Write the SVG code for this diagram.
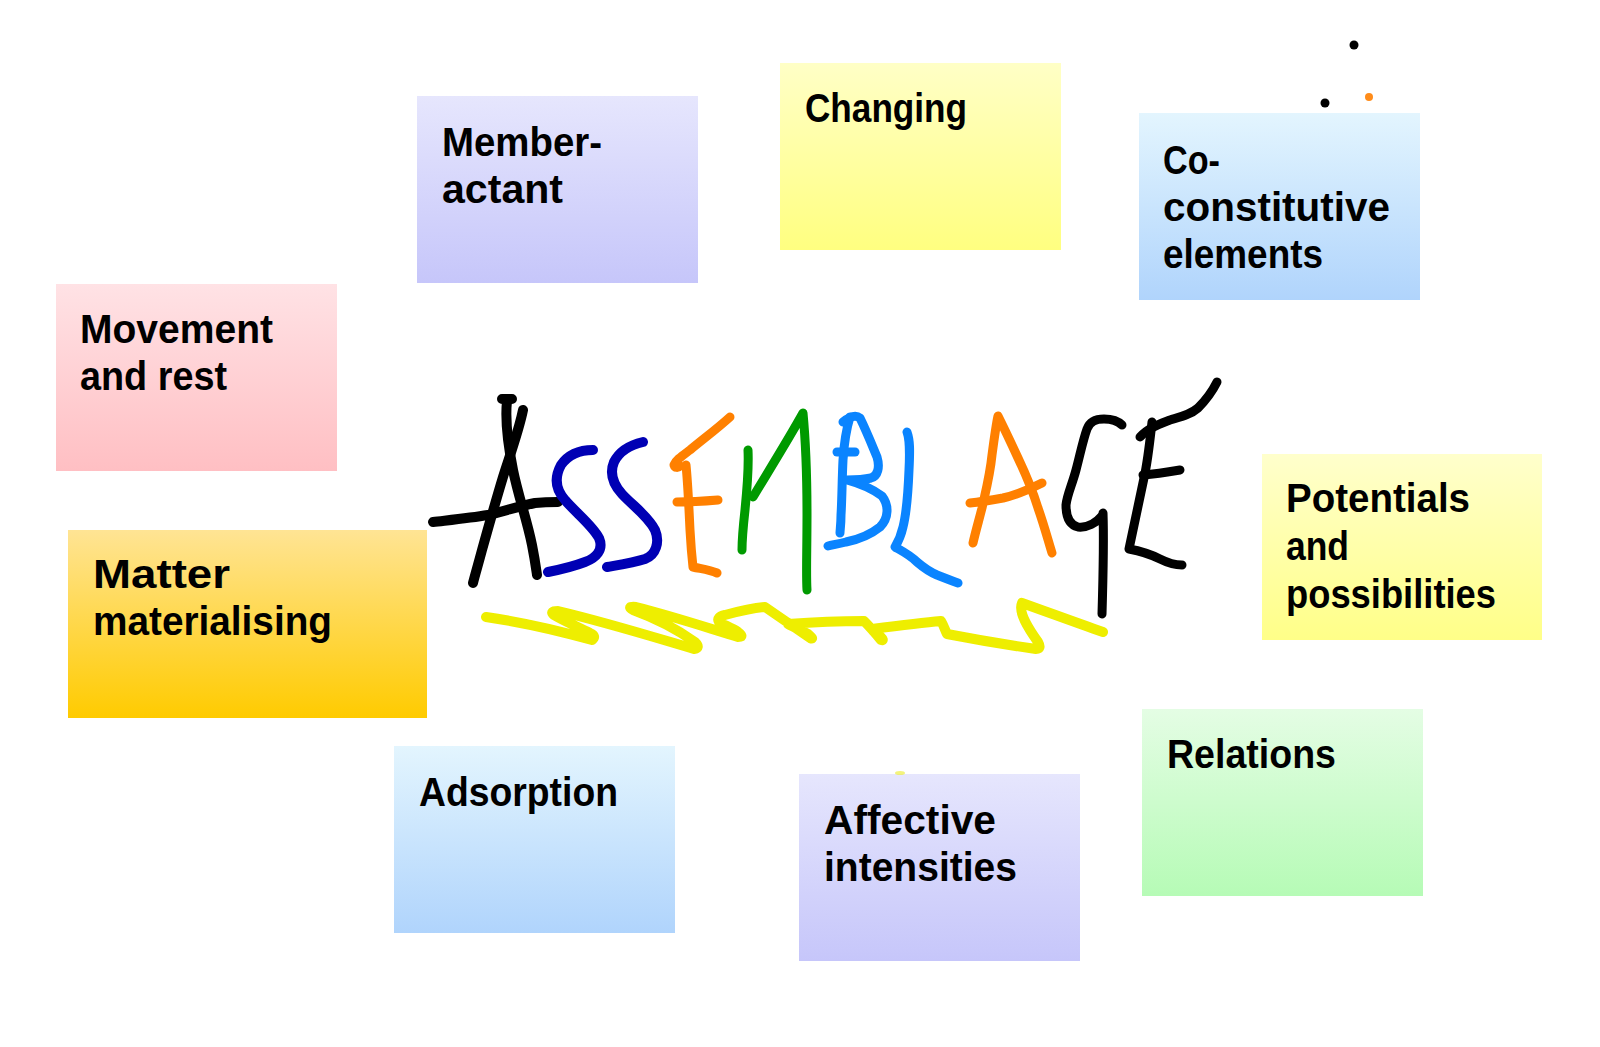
<svg xmlns="http://www.w3.org/2000/svg" width="1600" height="1047" viewBox="0 0 1600 1047">
<style>
.lbl{font-family:"Liberation Sans",Arial,sans-serif;font-weight:bold;font-size:40px;fill:#000}
.stk{fill:none;stroke-linecap:round;stroke-linejoin:round}
.k{stroke:#000;stroke-width:10}
.db{stroke:#0000b4;stroke-width:10}
.or{stroke:#ff8000;stroke-width:9}
.gr{stroke:#009a00;stroke-width:9}
.lb{stroke:#0a84ff;stroke-width:9}
.ye{stroke:#eeee00;stroke-width:10}
</style>
<defs>
<linearGradient id="gPink" x1="0" y1="0" x2="0" y2="1"><stop offset="0" stop-color="#ffe2e5"/><stop offset="1" stop-color="#ffbfc3"/></linearGradient>
<linearGradient id="gGold" x1="0" y1="0" x2="0" y2="1"><stop offset="0" stop-color="#ffe494"/><stop offset="1" stop-color="#ffcb00"/></linearGradient>
<linearGradient id="gLav" x1="0" y1="0" x2="0" y2="1"><stop offset="0" stop-color="#e6e6fd"/><stop offset="1" stop-color="#c6c6fa"/></linearGradient>
<linearGradient id="gYel" x1="0" y1="0" x2="0" y2="1"><stop offset="0" stop-color="#ffffc6"/><stop offset="1" stop-color="#ffff80"/></linearGradient>
<linearGradient id="gYel2" x1="0" y1="0" x2="0" y2="1"><stop offset="0" stop-color="#ffffcc"/><stop offset="1" stop-color="#ffff88"/></linearGradient>
<linearGradient id="gBlue" x1="0" y1="0" x2="0" y2="1"><stop offset="0" stop-color="#e3f5fe"/><stop offset="1" stop-color="#b0d4fc"/></linearGradient>
<linearGradient id="gGreen" x1="0" y1="0" x2="0" y2="1"><stop offset="0" stop-color="#e4fde4"/><stop offset="1" stop-color="#b6fbb6"/></linearGradient>
</defs>
<rect width="1600" height="1047" fill="#fff"/>

<g id="node-movement">
<rect x="56" y="284" width="281" height="187" fill="url(#gPink)"/>
<text class="lbl" x="80" y="343" textLength="193" lengthAdjust="spacingAndGlyphs">Movement</text>
<text class="lbl" x="80" y="390" textLength="147" lengthAdjust="spacingAndGlyphs">and rest</text>
</g>
<g id="node-matter">
<rect x="68" y="530" width="359" height="188" fill="url(#gGold)"/>
<text class="lbl" x="93" y="588" textLength="137" lengthAdjust="spacingAndGlyphs">Matter</text>
<text class="lbl" x="93" y="635" textLength="239" lengthAdjust="spacingAndGlyphs">materialising</text>
</g>
<g id="node-member">
<rect x="417" y="96" width="281" height="187" fill="url(#gLav)"/>
<text class="lbl" x="442" y="156" textLength="160" lengthAdjust="spacingAndGlyphs">Member-</text>
<text class="lbl" x="442" y="203" textLength="121" lengthAdjust="spacingAndGlyphs">actant</text>
</g>
<g id="node-changing">
<rect x="780" y="63" width="281" height="187" fill="url(#gYel)"/>
<text class="lbl" x="805" y="122" textLength="162" lengthAdjust="spacingAndGlyphs">Changing</text>
</g>
<g id="node-coconstitutive">
<rect x="1139" y="113" width="281" height="187" fill="url(#gBlue)"/>
<text class="lbl" x="1163" y="174" textLength="57" lengthAdjust="spacingAndGlyphs">Co-</text>
<text class="lbl" x="1163" y="221" textLength="227" lengthAdjust="spacingAndGlyphs">constitutive</text>
<text class="lbl" x="1163" y="268" textLength="160" lengthAdjust="spacingAndGlyphs">elements</text>
</g>
<g id="node-potentials">
<rect x="1262" y="454" width="280" height="186" fill="url(#gYel2)"/>
<text class="lbl" x="1286" y="512" textLength="184" lengthAdjust="spacingAndGlyphs">Potentials</text>
<text class="lbl" x="1286" y="560" textLength="63" lengthAdjust="spacingAndGlyphs">and</text>
<text class="lbl" x="1286" y="608" textLength="210" lengthAdjust="spacingAndGlyphs">possibilities</text>
</g>
<g id="node-relations">
<rect x="1142" y="709" width="281" height="187" fill="url(#gGreen)"/>
<text class="lbl" x="1167" y="768" textLength="169" lengthAdjust="spacingAndGlyphs">Relations</text>
</g>
<g id="node-affective">
<rect x="799" y="774" width="281" height="187" fill="url(#gLav)"/>
<text class="lbl" x="824" y="834" textLength="172" lengthAdjust="spacingAndGlyphs">Affective</text>
<text class="lbl" x="824" y="881" textLength="193" lengthAdjust="spacingAndGlyphs">intensities</text>
</g>
<g id="node-adsorption">
<rect x="394" y="746" width="281" height="187" fill="url(#gBlue)"/>
<text class="lbl" x="419" y="806" textLength="199" lengthAdjust="spacingAndGlyphs">Adsorption</text>
</g>

<g id="title-assemblage">
<!-- A -->
<path class="stk k" d="M502,399 L512,399 M507,401 C505,420 509,450 513,470 C518,495 527,520 532,545 C535,560 536,568 537,575"/>
<path class="stk k" d="M523,410 C519,430 510,455 503,477 C496,500 489,525 482,550 C478,565 475,575 473,583"/>
<path class="stk k" d="M433,522 C450,520 470,518 488,515 C505,511 520,506 535,503 C545,502 552,502 558,502"/>
<!-- S S -->
<path class="stk db" d="M593,450 C580,450 568,455 561,465 C554,478 556,490 565,500 C575,512 592,525 599,538 C604,550 596,558 585,562 C572,567 558,570 548,572"/>
<path class="stk db" d="M643,442 C630,445 619,452 614,462 C609,474 614,485 622,494 C633,506 648,516 655,530 C660,542 656,555 645,559 C632,563 618,565 607,567"/>
<!-- E -->
<path class="stk or" d="M730,417 C718,428 702,440 690,450 C682,456 676,460 674,465 C675,468 678,468 680,466"/>
<path class="stk or" d="M686,465 C688,485 689,510 690,530 C691,548 692,558 693,567 C702,569 710,570 717,573"/>
<path class="stk or" d="M677,502 C690,502 706,501 718,500"/>
<!-- M -->
<path class="stk gr" d="M748,450 C749,470 747,490 745,510 C743,528 742,540 742,550"/>
<path class="stk gr" d="M753,497 C768,472 788,440 803,413 C806,445 807,480 807,515 C807,550 806,575 807,590"/>
<!-- B -->
<path class="stk lb" d="M850,417 C846,430 844,445 843,460 C842,480 842,500 841,515 C841,525 840,530 840,533"/>
<path class="stk lb" d="M843,422 C848,418 855,414 860,418 C866,430 872,445 877,457 C880,467 878,476 871,478 C862,480 853,480 847,480 C858,483 870,487 882,496 C889,505 889,518 880,527 C870,535 856,540 846,542 C838,544 832,545 828,546"/>
<path class="stk lb" d="M837,452 L855,452"/>
<!-- L -->
<path class="stk lb" d="M907,432 C910,440 910,450 909,470 C908,495 906,515 903,527 C901,536 898,542 895,547 C902,551 910,555 917,562 C924,568 930,572 937,575 C945,578 952,581 958,583"/>
<!-- A -->
<path class="stk or" d="M973,543 C976,530 979,520 982,508 C986,490 990,475 992,455 C994,440 996,425 998,416 C1005,430 1012,445 1018,458 C1026,475 1033,492 1038,508 C1044,525 1048,540 1052,553"/>
<path class="stk or" d="M970,503 C980,502 992,500 1003,498 C1016,495 1030,489 1042,483"/>
<!-- G -->
<path class="stk k" style="stroke-width:9" d="M1122,425 C1118,421 1112,419 1104,419 C1096,419 1090,421 1087,429 C1083,440 1080,455 1076,470 C1072,485 1067,495 1066,505 C1066,518 1070,525 1078,527 C1087,528 1096,523 1102,516"/>
<path class="stk k" style="stroke-width:9" d="M1103,513 C1104,540 1103,580 1102,614"/>
<!-- E -->
<path class="stk k" style="stroke-width:9" d="M1217,382 C1212,392 1206,400 1198,408 C1190,415 1180,417 1170,420 C1160,424 1148,428 1140,437"/>
<path class="stk k" style="stroke-width:9" d="M1152,422 C1150,440 1148,460 1144,478 C1140,498 1135,520 1129,549 C1140,551 1150,554 1160,559 C1168,563 1175,565 1182,565"/>
<path class="stk k" style="stroke-width:9" d="M1143,475 C1155,474 1168,472 1180,470"/>
<!-- squiggle -->
<path class="stk ye" d="M486,617 C520,622 560,631 592,640 Q597,636 590,633 C578,627 562,620 554,615 Q549,611 558,611 C605,622 650,636 694,649 Q701,648 695,642 C678,630 655,618 633,610 Q626,606 636,607 C672,616 705,627 738,637 Q745,637 738,632 C732,628 724,625 719,622 Q716,617 725,615 C740,611 754,608 765,607 C781,618 797,629 810,638 Q815,640 808,634 C800,630 793,627 788,624 C815,622 842,621 864,621 C870,627 876,634 881,640 Q885,641 880,636 C876,633 872,631 872,629 C896,626 920,623 941,621 C944,626 945,630 947,634 C978,640 1008,645 1036,649 Q1042,649 1038,642 C1028,628 1018,612 1022,603 C1050,613 1077,623 1103,632"/>
<!-- dots -->
<circle cx="1354" cy="45" r="4.5" fill="#000"/>
<circle cx="1325" cy="103" r="4.5" fill="#000"/>
<circle cx="1369" cy="97" r="4" fill="#ff8c1a"/>
<ellipse cx="900" cy="773" rx="5" ry="2" fill="#eeee44" opacity="0.7"/>
</g>
</svg>
